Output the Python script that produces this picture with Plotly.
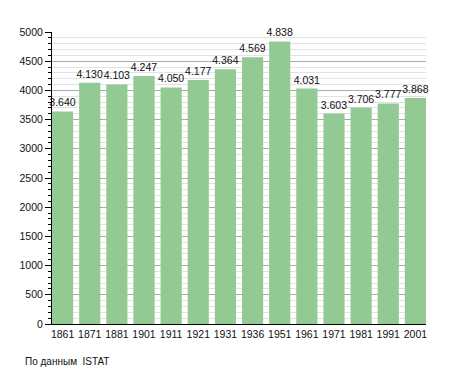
import plotly.graph_objects as go

years = ["1861", "1871", "1881", "1901", "1911", "1921", "1931", "1936", "1951", "1961", "1971", "1981", "1991", "2001"]
population = [3640, 4130, 4103, 4247, 4050, 4177, 4364, 4569, 4838, 4031, 3603, 3706, 3777, 3868]
y_ticks = [0, 500, 1000, 1500, 2000, 2500, 3000, 3500, 4000, 4500, 5000]
source_note = "По данным  ISTAT"

FONT = "Liberation Sans, Arial, sans-serif"

fig = go.Figure(
    go.Bar(
        x=years,
        y=population,
        marker=dict(color="#93c993", line=dict(width=0)),
        texttemplate="%{y:,}",
        textposition="outside",
        constraintext="none",
        textfont=dict(family=FONT, size=10.5, color="#111111"),
        cliponaxis=False,
        hoverinfo="x+y",
    )
)

fig.update_layout(
    width=447,
    height=365,
    margin=dict(l=42, r=29, t=24, b=49),
    paper_bgcolor="white",
    plot_bgcolor="white",
    separators=",.",
    bargap=0.22,
    showlegend=False,
    font=dict(family=FONT, size=10.5, color="#111111"),
    xaxis=dict(
        type="category",
        range=[-0.39, 13.39],
        showline=True,
        linecolor="black",
        linewidth=1,
        ticks="",
        showgrid=False,
        tickfont=dict(size=10.5),
    ),
    yaxis=dict(
        range=[0, 5000],
        tickvals=y_ticks,
        showline=True,
        linecolor="black",
        linewidth=1,
        ticks="outside",
        ticklen=6,
        tickcolor="black",
        showgrid=True,
        gridcolor="#aaaaaa",
        gridwidth=1,
        zeroline=False,
        tickfont=dict(size=10.5),
        minor=dict(
            dtick=100,
            ticks="outside",
            ticklen=3,
            tickcolor="black",
            showgrid=True,
            gridcolor="#e2e2e2",
            gridwidth=1,
        ),
    ),
    annotations=[
        dict(
            text=source_note,
            xref="paper",
            yref="paper",
            x=-0.077,
            y=-0.13,
            xanchor="left",
            yanchor="middle",
            showarrow=False,
            font=dict(family=FONT, size=10, color="#111111"),
        )
    ],
)

fig.write_html("out.html")
